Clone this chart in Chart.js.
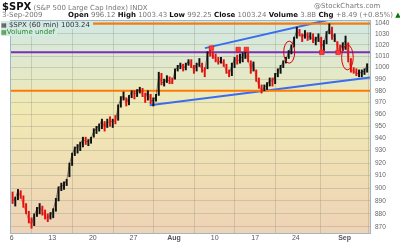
<!DOCTYPE html>
<html><head><meta charset="utf-8">
<script src="https://cdn.jsdelivr.net/npm/chart.js@4"></script>
<style>
body{margin:0;background:#fff;width:400px;height:243px;overflow:hidden;font-family:"DejaVu Sans",Verdana,sans-serif;}
#wrap{position:relative;width:400px;height:243px;}
canvas{position:absolute;left:0;top:0;}
.t{position:absolute;white-space:nowrap;color:#777;font-size:7px;line-height:8px;}
.b{font-weight:bold;color:#111;}
</style></head>
<body><div id="wrap"><canvas id="c" width="400" height="243"></canvas>
<div class="t" style="left:2px;top:1px;"><span class="b" style="font-size:10px;line-height:11px">$SPX</span> <span>(S&amp;P 500 Large Cap Index) INDX</span></div>
<div class="t" style="left:314px;top:2px;">@StockCharts.com</div>
<div class="t" style="left:2px;top:11px;">3-Sep-2009</div>
<div class="t" style="left:68px;top:11px;"><span class="b">Open</span> 996.12 <span class="b">High</span> 1003.43 <span class="b">Low</span> 992.25 <span class="b">Close</span> 1003.24 <span class="b">Volume</span> 3.8B <span class="b">Chg</span> +8.49 (+0.85%) <span style="color:#070">&#9650;</span></div>
<div class="t" style="left:1px;top:21px;color:#333;background:#d3eae4;padding-right:3px;"><span style="font-size:6px">&#9638;</span> $SPX (60 min) 1003.24</div>
<div class="t" style="left:1px;top:28px;color:#2a8a2a;background:#d4eae2;padding-right:2px;"><span style="font-size:6px">&#9641;</span>Volume undef</div>
</div>
<script>
// ---- data ----
const tickDays   = [0, 5, 10, 15, 20, 25, 30, 35, 41];
const tickLabels = ['6', '13', '20', '27', 'Aug', '10', '17', '24', 'Sep'];
const yTickValues = [870,880,890,900,910,920,930,940,950,960,970,980,990,1000,1010,1020,1030,1040];
const firstOpen = 898.6;
// 3 bars per trading day: [low, high, close]
const barLows = [
 888,886,891, 892,885,880, 873,869,871, 878,880,879, 876,874,876,
 877,882,890, 898,899,902, 909,918,926, 928,930,933, 935,934,936,
 941,944,946, 948,946,949, 950,949,952, 955,966,972, 967,968,974,
 973,975,978, 975,970,972, 969,967,971, 976,985,984, 987,986,986,
 990,997,999, 997,998,1002, 1000,995,997, 1001,996,992, 999,1010,1008,
 1005,1003,1004, 1001,995,992, 993,1000,1003, 1004,1005,1008, 1005,995,997,
 988,982,978, 980,981,984, 984,986,992, 995,1000,1004, 1008,1012,1018,
 1026,1028,1023, 1026,1024,1025, 1022,1020,1023, 1016,1015,1021, 1030,1025,1023,
 1016,1014,1015, 1016,1005,996, 995,993,992, 992,994,996
];
const barHighs = [
 897,893,899, 898,894,888, 882,877,880, 885,888,886, 883,880,881,
 884,892,901, 904,905,907, 920,928,933, 935,937,941, 941,939,941,
 948,950,952, 956,954,956, 958,956,959, 968,975,979, 974,976,980,
 980,981,983, 982,978,980, 977,974,977, 996,995,990, 993,992,991,
 999,1002,1004, 1003,1004,1007, 1007,1002,1004, 1008,1004,1000, 1014,1018,1014,
 1012,1009,1009, 1007,1003,998, 1004,1009,1011, 1012,1013,1014, 1013,1006,1005,
 998,991,985, 985,987,991, 991,995,999, 1002,1006,1009, 1015,1020,1027,
 1036,1034,1030, 1033,1031,1031, 1030,1027,1030, 1027,1024,1032, 1039,1036,1030,
 1023,1020,1022, 1028,1022,1008, 1000,999,998, 998,999,1003.4
];
const barCloses = [
 890,892,898, 893,887,881, 875,872,879, 884,885,882, 878,877,879,
 883,891,901, 901,903,906, 919,927,932, 933,935,940, 937,938,940,
 946,948,951, 955,949,954, 953,955,954, 967,973,976, 969,975,979,
 977,979,982, 976,974,980, 971,972,975, 993,987,987, 990,988,987,
 998,1000,1003, 999,1002,1006, 1001,998,1003, 1003,998,997, 1013,1012,1010,
 1008,1004,1007, 1002,997,994, 1002,1007,1006, 1007,1010,1013, 1006,999,1004,
 990,984,980, 983,985,989, 988,993,996, 1001,1005,1007, 1014,1019,1026,
 1033,1030,1026, 1031,1027,1028, 1024,1025,1028, 1018,1022,1031, 1035,1027,1029,
 1017,1016,1021, 1024,1007,998, 997,995,995, 996,997,1003.2
];
// overlay levels / annotations (price values, day positions)
const resistanceTop = 1039;
const supportLevel = 980;
const pivotLevel = 1013.5;
const lowerTrendDays = [17.0, 44.13], lowerTrendVals = [967.7, 991.3];
const upperTrendDays = [23.8, 38.95], upperTrendVals = [1017.2, 1042.5];
const markDays = [24.6, 27.9, 28.9, 38.2, 40.2];
const markVals = [1017.2, 1016, 1016, 1013.4, 1013.4];
const circleDays = [34.18, 41.35];
const circleVals = [1013.6, 1009.0];

// ---- build ----
const slot = [0.12, 0.45, 0.78];
const bars = [], colors = [], closePts = [];
for (let i = 0; i < barCloses.length; i++) {
  const d = Math.floor(i / 3);
  const xv = d + slot[i % 3];
  bars.push({x: xv, y: [barLows[i], barHighs[i]]});
  closePts.push({x: xv, y: barCloses[i]});
  const op = i === 0 ? firstOpen : barCloses[i - 1];
  colors.push(barCloses[i] >= op ? '#111111' : '#e41010');
}
const XMIN = -0.2, XMAX = 44.13;
const hline = (v) => [{x: XMIN, y: v}, {x: XMAX, y: v}];
const pts = (xs, ys) => xs.map((x, i) => ({x, y: ys[i]}));

const bgPlugin = {
  id: 'bg',
  beforeDraw(chart) {
    const {ctx, chartArea: a} = chart;
    const g = ctx.createLinearGradient(0, a.top, 0, a.bottom);
    g.addColorStop(0, '#d0e8e4');
    g.addColorStop(0.42, '#f1e9b4');
    g.addColorStop(1, '#eed3b5');
    ctx.save(); ctx.fillStyle = g; ctx.fillRect(a.left, a.top, a.right - a.left, a.bottom - a.top); ctx.restore();
  },
  afterDraw(chart) {
    const {ctx, chartArea: a} = chart;
    ctx.save(); ctx.strokeStyle = '#9fb6c6'; ctx.lineWidth = 1;
    ctx.strokeRect(a.left + 0.5, a.top + 0.5, a.right - a.left, a.bottom - a.top);
    ctx.restore();
  }
};
const ellipsePlugin = {
  id: 'ell',
  afterDatasetsDraw(chart) {
    const {ctx, scales: {x, y}} = chart;
    ctx.save(); ctx.strokeStyle = '#e00000'; ctx.lineWidth = 1;
    const r = [[5.5, 11], [5.8, 12.5]];
    circleDays.forEach((d, i) => {
      ctx.beginPath();
      ctx.ellipse(x.getPixelForValue(d), y.getPixelForValue(circleVals[i]), r[i][0], r[i][1], 0, 0, Math.PI * 2);
      ctx.stroke();
    });
    ctx.restore();
  }
};

new Chart(document.getElementById('c'), {
  type: 'bar',
  data: {
    datasets: [
      {type: 'line', data: hline(resistanceTop), borderColor: '#ff7a00', borderWidth: 2, pointRadius: 0, order: 3},
      {type: 'line', data: hline(supportLevel), borderColor: '#ff7a00', borderWidth: 2, pointRadius: 0, order: 3},
      {type: 'line', data: hline(pivotLevel), borderColor: '#7a2fb8', borderWidth: 2, pointRadius: 0, order: 3},
      {type: 'line', data: pts(lowerTrendDays, lowerTrendVals), borderColor: '#3a6cf0', borderWidth: 2, pointRadius: 0, order: 3},
      {type: 'line', data: pts(upperTrendDays, upperTrendVals), borderColor: '#3a6cf0', borderWidth: 2, pointRadius: 0, order: 3},
      {type: 'line', data: closePts, pointRadius: 0, borderWidth: 0.8,
        segment: {borderColor: c => colors[c.p1DataIndex] === '#e41010' ? 'rgba(228,16,16,0.6)' : 'rgba(20,20,20,0.6)'}, order: 2},
      {type: 'bar', data: bars, backgroundColor: colors, borderWidth: 0, barThickness: 1.3, grouped: false, order: 1},
      {type: 'line', data: pts(markDays, markVals), showLine: false, pointStyle: 'rect', pointRadius: 3.2,
        backgroundColor: '#ff3838', borderColor: '#d00000', borderWidth: 0.5, order: 0}
    ]
  },
  options: {
    responsive: false, animation: false,
    layout: {padding: {left: 10, top: 20, right: 0, bottom: 0}},
    plugins: {legend: {display: false}, tooltip: {enabled: false}},
    scales: {
      x: {
        type: 'linear', min: XMIN, max: XMAX, offset: false,
        afterBuildTicks: s => { s.ticks = tickDays.map(v => ({value: v})); },
        afterFit: s => { s.height = 10; },
        ticks: {
          autoSkip: false, maxRotation: 0, padding: 1, color: '#555',
          callback: v => tickLabels[tickDays.indexOf(v)],
          font: c => ({family: 'Liberation Sans', size: 7, weight: (c.tick && (c.tick.value === 20 || c.tick.value === 41)) ? 'bold' : 'normal'})
        },
        grid: {color: 'rgba(150,150,130,0.35)', drawTicks: false},
        border: {display: false}
      },
      y: {
        type: 'logarithmic', position: 'right', min: 865.4, max: 1042.5,
        afterBuildTicks: s => { s.ticks = yTickValues.map(v => ({value: v})); },
        afterFit: s => { s.width = 30; },
        ticks: {autoSkip: false, padding: 5, color: '#666', font: {family: 'Liberation Sans', size: 6.5}, callback: v => String(v)},
        grid: {color: 'rgba(150,150,130,0.35)', drawTicks: false},
        border: {display: false}
      }
    }
  },
  plugins: [bgPlugin, ellipsePlugin]
});
</script></body></html>
